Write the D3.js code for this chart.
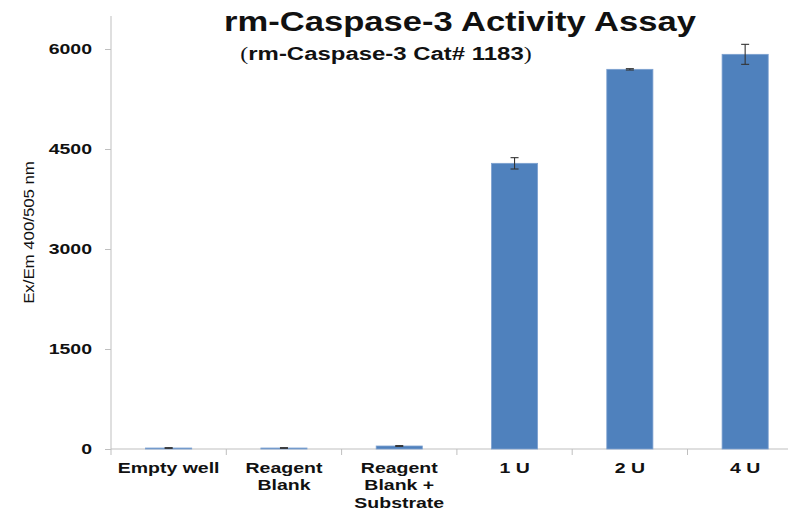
<!DOCTYPE html>
<html><head><meta charset="utf-8">
<script src="https://cdn.jsdelivr.net/npm/d3@7"></script>
<style>body{margin:0;background:#fff}svg{display:block}</style>
</head><body>
<svg id="c" width="788" height="511"></svg>
<script>
const categories = ["Empty well", "Reagent Blank", "Reagent Blank + Substrate", "1 U", "2 U", "4 U"];
const categoryLines = [["Empty well"], ["Reagent", "Blank"], ["Reagent", "Blank +", "Substrate"], ["1 U"], ["2 U"], ["4 U"]];
const values = [15, 15, 45, 4285, 5695, 5920];
const errors = [5, 5, 6, 85, 10, 150];
const yTicks = [0, 1500, 3000, 4500, 6000];

const svg = d3.select("#c");
const leftX = 111, bottomY = 449, topY = 16;
const step = 115.3;
const SX = 1.3; // horizontal stretch of text, as in the reference
const FONT = "Liberation Sans, Arial, sans-serif";
const x = d3.scaleBand().domain(categories).range([leftX, leftX + step * categories.length]).paddingInner(0.6).paddingOuter(0.3);
const y = d3.scaleLinear().domain([0, 6500]).range([bottomY, bottomY - 6500 / 15]);

function addText(px, py, k, attrs) {
  const t = svg.append("text").attr("transform", `translate(${px},${py}) scale(${k},1)`)
    .attr("text-anchor", "middle").attr("font-family", FONT).attr("fill", "#111");
  Object.entries(attrs || {}).forEach(([a, v]) => t.attr(a, v));
  return t;
}

// title
addText(460, 31, 1.28, {"font-weight": "bold", "font-size": 27}).text("rm-Caspase-3 Activity Assay");
const sub = addText(386, 60, 1.26, {"font-weight": "bold", "font-size": 19});
sub.append("tspan").attr("font-family", "Liberation Serif, Times New Roman, serif").attr("font-weight", "normal").text("(");
sub.append("tspan").text("rm-Caspase-3 Cat# 1183");
sub.append("tspan").attr("font-family", "Liberation Serif, Times New Roman, serif").attr("font-weight", "normal").text(")");

// y axis
const yAxis = svg.append("g").attr("transform", `translate(${leftX},0)`)
  .call(d3.axisLeft(y).tickValues(yTicks).tickSize(6).tickFormat(d3.format("d")));
yAxis.select(".domain").attr("stroke", "#bfbfbf").attr("d", `M0,${bottomY}V${topY}`);
yAxis.selectAll(".tick line").attr("stroke", "#bfbfbf");
yAxis.selectAll(".tick text").attr("x", 0).attr("transform", `translate(-19,0) scale(${SX},1)`)
  .attr("font-family", FONT).attr("font-weight", "bold").attr("font-size", 15).attr("fill", "#111");

// x axis
const xAxis = svg.append("g").attr("transform", `translate(0,${bottomY})`)
  .call(d3.axisBottom(x).tickSize(0).tickFormat(""));
xAxis.select(".domain").attr("stroke", "#bfbfbf").attr("d", `M${leftX},0H788`);
const bounds = categories.map((c, i) => leftX + step * i);
xAxis.selectAll(".bnd").data(bounds).join("line").attr("class", "bnd")
  .attr("x1", d => d).attr("x2", d => d).attr("y1", 0).attr("y2", 6).attr("stroke", "#bfbfbf");

// x labels
categories.forEach((c, i) => {
  const t = addText(x(c) + x.bandwidth() / 2, 0, SX, {"font-weight": "bold", "font-size": 15});
  categoryLines[i].forEach((ln, j) => {
    t.append("tspan").attr("x", 0).attr("y", 473 + j * 17.3).text(ln);
  });
});

// y label
svg.append("text").attr("transform", "translate(34,232.5) rotate(-90) scale(1.12,1)").attr("text-anchor", "middle")
  .attr("font-family", FONT).attr("font-size", 15).attr("fill", "#111").text("Ex/Em 400/505 nm");

// bars
svg.selectAll(".bar").data(categories).join("rect").attr("class", "bar")
  .attr("x", d => x(d)).attr("width", x.bandwidth())
  .attr("y", (d, i) => y(values[i])).attr("height", (d, i) => bottomY - y(values[i]))
  .attr("fill", "#4f81bd").attr("stroke", "#7da1d0").attr("stroke-width", 0.8);

// error bars
const eb = svg.append("g").attr("stroke", "#333").attr("stroke-width", 1.1);
categories.forEach((c, i) => {
  const cx = x(c) + x.bandwidth() / 2;
  const y1 = y(values[i] + errors[i]), y2 = y(values[i] - errors[i]);
  eb.append("line").attr("x1", cx).attr("x2", cx).attr("y1", y1).attr("y2", y2);
  eb.append("line").attr("x1", cx - 4).attr("x2", cx + 4).attr("y1", y1).attr("y2", y1);
  eb.append("line").attr("x1", cx - 4).attr("x2", cx + 4).attr("y1", y2).attr("y2", y2);
});
</script>
</body></html>
